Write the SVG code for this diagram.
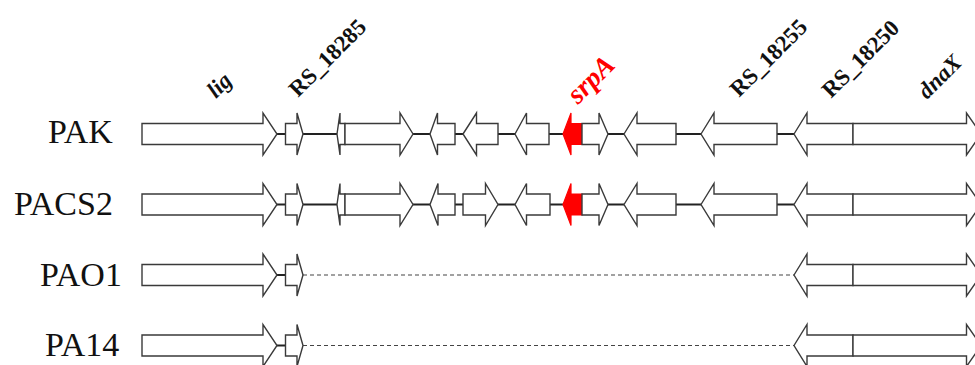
<svg xmlns="http://www.w3.org/2000/svg" width="975" height="365" viewBox="0 0 975 365">
<style>
.gene{fill:#fff;stroke:#3a3a3a;stroke-width:1.4;stroke-linejoin:miter}
.red{fill:#ff0000;stroke:#ff0000;stroke-width:1.2}
.link{stroke:#222;stroke-width:2;fill:none}
.gap{stroke:#444;stroke-width:1.2;stroke-dasharray:4 3;fill:none}
.row{font-family:"Liberation Serif","Times New Roman",serif;font-size:34px;fill:#111}
.lab{font-family:"Liberation Serif","Times New Roman",serif;font-size:23px;font-weight:bold;fill:#111}
.it{font-style:italic}
</style>
<rect width="975" height="365" fill="#fff"/>
<g id="labels">
<text class="lab it" transform="translate(216,99) rotate(-45)">lig</text>
<text class="lab" transform="translate(298,98) rotate(-45)">RS_18285</text>
<text class="lab it" transform="translate(578,105) rotate(-45)" style="fill:#ff0000;font-size:28px">srpA</text>
<text class="lab" transform="translate(739,98) rotate(-45)">RS_18255</text>
<text class="lab" transform="translate(831,99) rotate(-45)">RS_18250</text>
<text class="lab it" transform="translate(927,100) rotate(-45)">dnaX</text>
</g>
<g id="row-names">
<text id="name-PAK" class="row" x="48" y="143">PAK</text>
<text id="name-PACS2" class="row" x="14" y="215">PACS2</text>
<text id="name-PAO1" class="row" x="40" y="286">PAO1</text>
<text id="name-PA14" class="row" x="45" y="356">PA14</text>
</g>
<g id="connectors">
<g transform="translate(0,134)">
<path class="link" d="M277,0H286M303,0H337M413,0H430M455,0H463M498,0H515M549,0H563M608,0H624M676,0H701M777,0H794"/>
</g>
<g transform="translate(0,204.5)">
<path class="link" d="M277,0H286M303,0H337M413,0H430M455,0H463M498,0H515M549,0H563M608,0H624M676,0H701M777,0H794"/>
</g>
<g transform="translate(0,275)">
<path class="link" d="M277,0H286"/>
<path class="gap" d="M303,0H794"/>
</g>
<g transform="translate(0,345.5)">
<path class="link" d="M277,0H286"/>
<path class="gap" d="M303,0H794"/>
</g>
</g>
<g id="PAK" transform="translate(0,134)">
<path id="PAK-lig" class="gene" d="M142,-10.5H263V-21L277,0L263,21V10.5H142Z"/>
<path id="PAK-RS18285" class="gene" d="M285.5,-10.5H297V-21L303,0L297,21V10.5H285.5Z"/>
<path id="PAK-g3" class="gene" d="M337,0L340,-21V-10.5H345V10.5H340V21Z"/>
<path id="PAK-g4" class="gene" d="M345,-10.5H400V-21L413,0L400,21V10.5H345Z"/>
<path id="PAK-g5" class="gene" d="M430,0L437.5,-21V-10.5H455V10.5H437.5V21Z"/>
<path id="PAK-g6" class="gene" d="M463,0L476.5,-21V-10.5H498V10.5H476.5V21Z"/>
<path id="PAK-g7" class="gene" d="M515,0L526.5,-21V-10.5H549V10.5H526.5V21Z"/>
<path id="PAK-srpA" class="red" d="M563,0L571,-21V-10.5H582V10.5H571V21Z"/>
<path id="PAK-g9" class="gene" d="M582,-10.5H599V-21L608,0L599,21V10.5H582Z"/>
<path id="PAK-g10" class="gene" d="M624,0L637,-21V-10.5H676V10.5H637V21Z"/>
<path id="PAK-RS18255" class="gene" d="M701,0L714,-21V-10.5H777V10.5H714V21Z"/>
<path id="PAK-RS18250" class="gene" d="M794,0L807,-21V-10.5H853V10.5H807V21Z"/>
<path id="PAK-dnaX" class="gene" d="M853,-10.5H966.5V-21L981,0L966.5,21V10.5H853Z"/>
</g>
<g id="PACS2" transform="translate(0,204.5)">
<path id="PACS2-lig" class="gene" d="M142,-10.5H263V-21L277,0L263,21V10.5H142Z"/>
<path id="PACS2-RS18285" class="gene" d="M285.5,-10.5H297V-21L303,0L297,21V10.5H285.5Z"/>
<path id="PACS2-g3" class="gene" d="M337,0L340,-21V-10.5H345V10.5H340V21Z"/>
<path id="PACS2-g4" class="gene" d="M345,-10.5H400V-21L413,0L400,21V10.5H345Z"/>
<path id="PACS2-g5" class="gene" d="M430,0L438,-21V-10.5H455V10.5H438V21Z"/>
<path id="PACS2-g6" class="gene" d="M463,-10.5H485.5V-21L498,0L485.5,21V10.5H463Z"/>
<path id="PACS2-g7" class="gene" d="M515,0L526.5,-21V-10.5H550V10.5H526.5V21Z"/>
<path id="PACS2-srpA" class="red" d="M563,0L571,-21V-10.5H582V10.5H571V21Z"/>
<path id="PACS2-g9" class="gene" d="M582,-10.5H599V-21L608,0L599,21V10.5H582Z"/>
<path id="PACS2-g10" class="gene" d="M624,0L637,-21V-10.5H676V10.5H637V21Z"/>
<path id="PACS2-RS18255" class="gene" d="M701,0L714,-21V-10.5H777V10.5H714V21Z"/>
<path id="PACS2-RS18250" class="gene" d="M794,0L807,-21V-10.5H853V10.5H807V21Z"/>
<path id="PACS2-dnaX" class="gene" d="M853,-10.5H966.5V-21L981,0L966.5,21V10.5H853Z"/>
</g>
<g id="PAO1" transform="translate(0,275)">
<path id="PAO1-lig" class="gene" d="M142,-10.5H263V-21L277,0L263,21V10.5H142Z"/>
<path id="PAO1-RS18285" class="gene" d="M285.5,-10.5H297V-21L303,0L297,21V10.5H285.5Z"/>
<path id="PAO1-RS18250" class="gene" d="M794,0L807,-21V-10.5H853V10.5H807V21Z"/>
<path id="PAO1-dnaX" class="gene" d="M853,-10.5H966.5V-21L981,0L966.5,21V10.5H853Z"/>
</g>
<g id="PA14" transform="translate(0,345.5)">
<path id="PA14-lig" class="gene" d="M142,-10.5H263V-21L277,0L263,21V10.5H142Z"/>
<path id="PA14-RS18285" class="gene" d="M285.5,-10.5H297V-21L303,0L297,21V10.5H285.5Z"/>
<path id="PA14-RS18250" class="gene" d="M794,0L807,-21V-10.5H853V10.5H807V21Z"/>
<path id="PA14-dnaX" class="gene" d="M853,-10.5H966.5V-21L981,0L966.5,21V10.5H853Z"/>
</g>
</svg>
